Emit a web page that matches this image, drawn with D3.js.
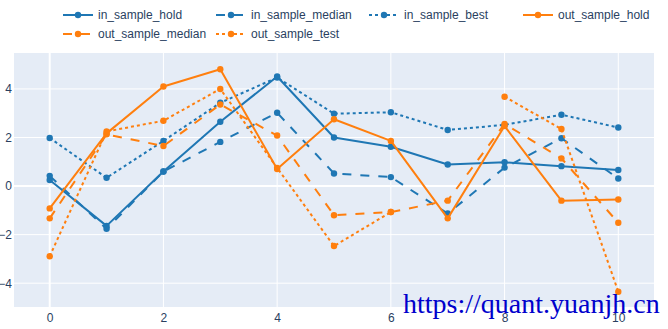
<!DOCTYPE html>
<html>
<head>
<meta charset="utf-8">
<script src="https://cdn.jsdelivr.net/npm/d3@7"></script>
<style>
  html, body { margin: 0; padding: 0; background: #fff; }
  svg { display: block; }
</style>
</head>
<body>
<svg id="chart" width="668" height="329"></svg>
<script>
// Step index along the x axis
const steps = [0, 1, 2, 3, 4, 5, 6, 7, 8, 9, 10];

// Series values per step (null = no value)
const inSampleHold    = [0.25, -1.64, 0.60, 2.65, 4.51, 2.00, 1.62, 0.89, 0.98, 0.82, 0.66];
const inSampleMedian  = [0.42, -1.76, 0.60, 1.82, 3.02, 0.52, 0.37, -1.13, 0.76, 1.97, 0.31];
const inSampleBest    = [1.98, 0.34, 1.86, 3.43, 4.47, 2.98, 3.04, 2.31, 2.52, 2.94, 2.41];
const outSampleHold   = [-0.92, 2.17, 4.10, 4.81, 0.70, 2.75, 1.86, -1.33, 2.47, -0.60, -0.55];
const outSampleMedian = [-1.33, 2.13, 1.65, 3.36, 2.08, -1.20, -1.07, -0.60, 2.56, 1.14, -1.51];
const outSampleTest   = [-2.89, 2.25, 2.69, 4.00, 0.75, -2.47, -1.07, null, 3.68, 2.35, -4.35];

// Tick values
const xTicks = [0, 2, 4, 6, 8, 10];
const yTicks = [-4, -2, 0, 2, 4];

const seriesNames = ["in_sample_hold", "in_sample_median", "in_sample_best",
                     "out_sample_hold", "out_sample_median", "out_sample_test"];
const seriesValues = [inSampleHold, inSampleMedian, inSampleBest,
                      outSampleHold, outSampleMedian, outSampleTest];

const BLUE = "#1f77b4", ORANGE = "#ff7f0e";
const styles = [
  { color: BLUE,   dash: null },
  { color: BLUE,   dash: "9,9" },
  { color: BLUE,   dash: "3,3" },
  { color: ORANGE, dash: null },
  { color: ORANGE, dash: "9,9" },
  { color: ORANGE, dash: "3,3" }
];

const series = seriesNames.map((name, i) => ({
  name,
  style: styles[i],
  points: steps.map((s, j) => ({ x: s, y: seriesValues[i][j] }))
}));

const svg = d3.select("#chart");
const plot = { left: 14, right: 654, top: 53, bottom: 307 };
const FONT = "'Liberation Sans', Arial, sans-serif";
const TEXT = "#2a3f5f";

const x = d3.scaleLinear().domain([-0.628, 10.628]).range([plot.left, plot.right]);
const y = d3.scaleLinear().domain([-4.98, 5.48]).range([plot.bottom, plot.top]);

// Plot background
svg.append("rect")
  .attr("x", plot.left).attr("y", plot.top)
  .attr("width", plot.right - plot.left).attr("height", plot.bottom - plot.top)
  .attr("fill", "#E5ECF6");

// Grid lines
const grid = svg.append("g");
grid.selectAll(".vx").data(xTicks).join("line")
  .attr("x1", d => x(d)).attr("x2", d => x(d))
  .attr("y1", plot.top).attr("y2", plot.bottom)
  .attr("stroke", "#fff").attr("stroke-width", d => d === 0 ? 2 : 1);
grid.selectAll(".hy").data(yTicks).join("line")
  .attr("x1", plot.left).attr("x2", plot.right)
  .attr("y1", d => y(d)).attr("y2", d => y(d))
  .attr("stroke", "#fff").attr("stroke-width", d => d === 0 ? 2 : 1);

// Axes (labels only)
const fmt = d => d < 0 ? "\u2212" + Math.abs(d) : String(d);
const xAxis = svg.append("g")
  .attr("transform", `translate(0,${plot.bottom})`)
  .call(d3.axisBottom(x).tickValues(xTicks).tickSize(0).tickPadding(6).tickFormat(fmt));
const yAxis = svg.append("g")
  .attr("transform", `translate(${plot.left},0)`)
  .call(d3.axisLeft(y).tickValues(yTicks).tickSize(0).tickPadding(2).tickFormat(fmt));
[xAxis, yAxis].forEach(a => {
  a.select(".domain").remove();
  a.selectAll("text").attr("fill", TEXT).attr("font-family", FONT).attr("font-size", 12);
});

// Lines and markers
const line = d3.line()
  .defined(d => d.y !== null)
  .x(d => x(d.x)).y(d => y(d.y));

const traces = svg.append("g");
series.forEach(s => {
  const g = traces.append("g");
  g.append("path")
    .attr("d", line(s.points))
    .attr("fill", "none")
    .attr("stroke", s.style.color)
    .attr("stroke-width", 2)
    .attr("stroke-linejoin", "round")
    .attr("stroke-dasharray", s.style.dash);
  g.selectAll("circle").data(s.points.filter(d => d.y !== null)).join("circle")
    .attr("cx", d => x(d.x)).attr("cy", d => y(d.y))
    .attr("r", 3.2)
    .attr("fill", s.style.color);
});

// Legend
const legendPos = [
  [58, 15], [211, 15], [364, 15], [518, 15],
  [58, 34], [211, 34]
];
const legend = svg.append("g");
series.forEach((s, i) => {
  const [lx, ly] = legendPos[i];
  const g = legend.append("g").attr("transform", `translate(${lx},${ly})`);
  g.append("line")
    .attr("x1", 5).attr("x2", 35).attr("y1", 0).attr("y2", 0)
    .attr("stroke", s.style.color).attr("stroke-width", 2)
    .attr("stroke-dasharray", s.style.dash);
  g.append("circle").attr("cx", 20).attr("cy", 0).attr("r", 3.2).attr("fill", s.style.color);
  g.append("text")
    .attr("x", 40).attr("y", 0).attr("dy", "0.35em")
    .attr("fill", TEXT).attr("font-family", FONT).attr("font-size", 12)
    .text(s.name);
});

// Site link
svg.append("text")
  .attr("x", 403).attr("y", 313)
  .attr("fill", "#0000cc")
  .attr("font-family", "'Liberation Serif', 'Times New Roman', serif")
  .attr("font-size", 28)
  .text("https://quant.yuanjh.cn");
</script>
</body>
</html>
